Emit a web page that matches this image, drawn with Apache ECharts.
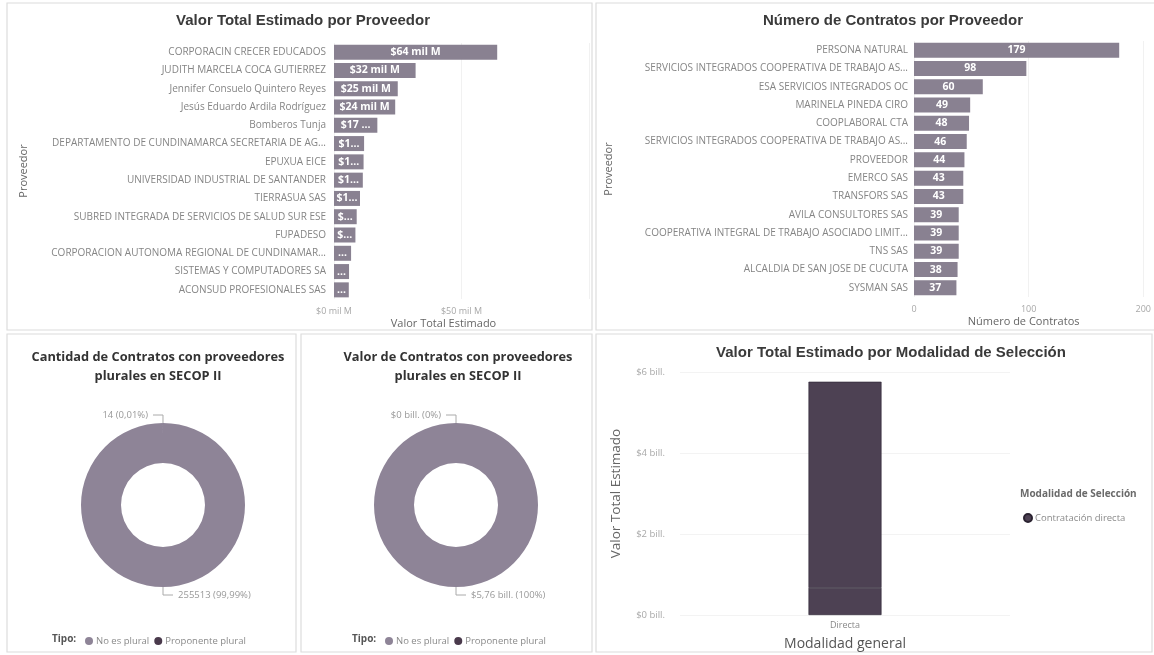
<!DOCTYPE html>
<html><head><meta charset="utf-8">
<script src="https://cdn.jsdelivr.net/npm/echarts@6/dist/echarts.min.js"></script>
<style>html,body{margin:0;padding:0;background:#fff}#c{width:1154px;height:655px}</style>
</head><body><div id="c"></div>
<script>
// ---- data ----
const proveedoresValor = [
  'CORPORACIN CRECER EDUCADOS',
  'JUDITH MARCELA COCA GUTIERREZ',
  'Jennifer Consuelo Quintero Reyes',
  'Jesús Eduardo Ardila Rodríguez',
  'Bomberos Tunja',
  'DEPARTAMENTO DE CUNDINAMARCA SECRETARIA DE AG...',
  'EPUXUA EICE',
  'UNIVERSIDAD INDUSTRIAL DE SANTANDER',
  'TIERRASUA SAS',
  'SUBRED INTEGRADA DE SERVICIOS DE SALUD SUR ESE',
  'FUPADESO',
  'CORPORACION AUTONOMA REGIONAL DE CUNDINAMAR...',
  'SISTEMAS Y COMPUTADORES SA',
  'ACONSUD PROFESIONALES SAS'
];
const valorMilM = [64, 32, 25, 24, 17, 11.8, 11.6, 11.3, 10.2, 8.9, 8.4, 6.7, 5.9, 5.8];

const proveedoresContratos = [
  'PERSONA NATURAL',
  'SERVICIOS INTEGRADOS COOPERATIVA DE TRABAJO AS...',
  'ESA SERVICIOS INTEGRADOS OC',
  'MARINELA PINEDA CIRO',
  'COOPLABORAL CTA',
  'SERVICIOS INTEGRADOS COOPERATIVA DE TRABAJO AS...\u200B',
  'PROVEEDOR',
  'EMERCO SAS',
  'TRANSFORS SAS',
  'AVILA CONSULTORES SAS',
  'COOPERATIVA INTEGRAL DE TRABAJO ASOCIADO LIMIT...',
  'TNS SAS',
  'ALCALDIA DE SAN JOSE DE CUCUTA',
  'SYSMAN SAS'
];
const numeroContratos = [179, 98, 60, 49, 48, 46, 44, 43, 43, 39, 39, 39, 38, 37];

const tipos = ['No es plural', 'Proponente plural'];
const cantidadPorTipo = [255513, 14];
const valorPorTipoBill = [5.76, 0];

const modalidadGeneral = ['Directa'];
const modalidadSeleccion = 'Contratación directa';
const valorModalidadTramoInferior = [0.67];
const valorModalidadTramoSuperior = [5.09];

const ticksValorMilM = [0, 50, 100];
const ticksContratos = [0, 100, 200];
const ticksModalidadBill = [0, 2, 4, 6];

// ---- styles ----
const FONT = "'Open Sans', 'Noto Sans', sans-serif";
const TFONT = "'Liberation Sans', Arial, sans-serif";
const barColor = '#898191';
const darkColor = '#4d4153';
const tipoColors = ['#8e8497', '#4a3a4c'];

function fmtPct(p) {
  return String(parseFloat(p.toFixed(2))).replace('.', ',');
}
function pctList(arr) {
  const s = arr.reduce((a, b) => a + b, 0);
  return arr.map(v => s ? v / s * 100 : 0);
}
const pctCantidad = pctList(cantidadPorTipo);
const pctValor = pctList(valorPorTipoBill);

const catAxisCommon = {
  type: 'category', inverse: true,
  axisLine: { show: false }, axisTick: { show: false },
  axisLabel: { color: '#858585', fontSize: 10, fontFamily: FONT },
  nameLocation: 'middle', nameRotate: 90,
  nameTextStyle: { color: '#666', fontSize: 11, fontFamily: FONT }
};
const valAxisCommon = {
  type: 'value',
  axisLine: { show: false }, axisTick: { show: false },
  splitLine: { show: true, lineStyle: { color: '#f1f1f1' } },
  axisLabel: { color: '#a8a8a8', fontSize: 9, fontFamily: FONT, margin: 8 },
  nameLocation: 'middle',
  nameTextStyle: { color: '#666', fontSize: 11, fontFamily: FONT }
};

const option = {
  backgroundColor: '#fff',
  animation: false,
  title: [
    { text: 'Valor Total Estimado por Proveedor', left: 298, top: 8, textAlign: 'center',
      textStyle: { fontFamily: TFONT, fontSize: 15, fontWeight: 'bold', color: '#3a3a3a' } },
    { text: 'Número de Contratos por Proveedor', left: 888, top: 8, textAlign: 'center',
      textStyle: { fontFamily: TFONT, fontSize: 15, fontWeight: 'bold', color: '#3a3a3a' } },
    { text: 'Cantidad de Contratos con proveedores\nplurales en SECOP II', left: 153, top: 343, textAlign: 'center',
      textStyle: { fontFamily: FONT, fontSize: 12.8, fontWeight: 'bold', color: '#333', lineHeight: 19, align: 'center' } },
    { text: 'Valor de Contratos con proveedores\nplurales en SECOP II', left: 453, top: 343, textAlign: 'center',
      textStyle: { fontFamily: FONT, fontSize: 12.8, fontWeight: 'bold', color: '#333', lineHeight: 19, align: 'center' } },
    { text: 'Valor Total Estimado por Modalidad de Selección', left: 886, top: 340, textAlign: 'center',
      textStyle: { fontFamily: TFONT, fontSize: 15, fontWeight: 'bold', color: '#3a3a3a' } }
  ],
  grid: [
    { left: 334, top: 43, width: 255, height: 256 },
    { left: 914, top: 41, width: 231, height: 256 },
    { left: 680, top: 372, width: 330, height: 243 }
  ],
  xAxis: [
    Object.assign({}, valAxisCommon, {
      gridIndex: 0, min: ticksValorMilM[0], max: ticksValorMilM[2], interval: ticksValorMilM[1] - ticksValorMilM[0],
      name: 'Valor Total Estimado', nameGap: 19,
      nameTextStyle: { color: '#666', fontSize: 11, fontFamily: FONT, padding: [0, 36, 0, 0] },
      axisLabel: Object.assign({}, valAxisCommon.axisLabel, { showMaxLabel: false, formatter: v => '$' + v + ' mil M' })
    }),
    Object.assign({}, valAxisCommon, {
      gridIndex: 1, min: ticksContratos[0], max: ticksContratos[2], interval: ticksContratos[1] - ticksContratos[0],
      name: 'Número de Contratos', nameGap: 19,
      nameTextStyle: { color: '#666', fontSize: 11, fontFamily: FONT, padding: [0, 10, 0, 0] }
    }),
    {
      gridIndex: 2, type: 'category', data: modalidadGeneral,
      axisLine: { show: false }, axisTick: { show: false },
      axisLabel: { color: '#888', fontSize: 9, fontFamily: FONT, margin: 6 },
      name: 'Modalidad general', nameLocation: 'middle', nameGap: 22,
      nameTextStyle: { color: '#555', fontSize: 14, fontFamily: FONT }
    }
  ],
  yAxis: [
    Object.assign({}, catAxisCommon, { gridIndex: 0, data: proveedoresValor, name: 'Proveedor', nameGap: 305 }),
    Object.assign({}, catAxisCommon, {
      gridIndex: 1, data: proveedoresContratos, name: 'Proveedor', nameGap: 300,
      axisLabel: Object.assign({}, catAxisCommon.axisLabel, { margin: 6 })
    }),
    {
      gridIndex: 2, type: 'value', min: ticksModalidadBill[0], max: ticksModalidadBill[3],
      interval: ticksModalidadBill[1] - ticksModalidadBill[0],
      axisLine: { show: false }, axisTick: { show: false },
      splitLine: { show: true, lineStyle: { color: '#f3f3f3' } },
      axisLabel: { color: '#a8a8a8', fontSize: 9.5, fontFamily: FONT, margin: 15, formatter: v => '$' + v + ' bill.' },
      name: 'Valor Total Estimado', nameLocation: 'middle', nameRotate: 90, nameGap: 57,
      nameTextStyle: { color: '#666', fontSize: 13.5, fontFamily: FONT }
    }
  ],
  legend: [
    { data: tipos, left: 80, top: 631, icon: 'circle', itemWidth: 8, itemHeight: 8, itemGap: 5,
      textStyle: { color: '#8a8a8a', fontSize: 9.5, fontFamily: FONT, padding: [0, 0, 0, -2] } },
    { data: tipos, left: 380, top: 631, icon: 'circle', itemWidth: 8, itemHeight: 8, itemGap: 5,
      textStyle: { color: '#8a8a8a', fontSize: 9.5, fontFamily: FONT, padding: [0, 0, 0, -2] } },
    { data: [modalidadSeleccion], left: 1018, top: 508, icon: 'circle', itemWidth: 8, itemHeight: 8,
      textStyle: { color: '#8a8a8a', fontSize: 9.5, fontFamily: FONT, padding: [0, 0, 0, -2] } }
  ],
  graphic: [
    { type: 'rect', shape: { x: 7, y: 3, width: 585, height: 327 }, style: { fill: 'none', stroke: '#dcdcdc', lineWidth: 1.2 }, silent: true },
    { type: 'rect', shape: { x: 596, y: 3, width: 562, height: 327 }, style: { fill: 'none', stroke: '#dcdcdc', lineWidth: 1.2 }, silent: true },
    { type: 'rect', shape: { x: 7, y: 334, width: 289, height: 318 }, style: { fill: 'none', stroke: '#dcdcdc', lineWidth: 1.2 }, silent: true },
    { type: 'rect', shape: { x: 301, y: 334, width: 291, height: 318 }, style: { fill: 'none', stroke: '#dcdcdc', lineWidth: 1.2 }, silent: true },
    { type: 'rect', shape: { x: 596, y: 334, width: 556, height: 318 }, style: { fill: 'none', stroke: '#dcdcdc', lineWidth: 1.2 }, silent: true },
    { type: 'text', left: 52, top: 634, style: { text: 'Tipo:', fill: '#555', font: "bold 10px 'Open Sans', sans-serif" } },
    { type: 'text', left: 352, top: 634, style: { text: 'Tipo:', fill: '#555', font: "bold 10px 'Open Sans', sans-serif" } },
    { type: 'text', left: 1020, top: 489, style: { text: 'Modalidad de Selección', fill: '#6a6a6a', font: "bold 10px 'Open Sans', sans-serif" } }
  ],
  series: [
    {
      id: 'valor', type: 'bar', xAxisIndex: 0, yAxisIndex: 0, data: valorMilM,
      barCategoryGap: '18%', itemStyle: { color: barColor },
      label: { show: true, position: 'inside', color: '#fff', fontSize: 10.5, fontWeight: 'bold', fontFamily: FONT,
        overflow: 'truncate', ellipsis: '...', formatter: p => '$' + Math.round(p.value) + ' mil M' }
    },
    {
      id: 'contratos', type: 'bar', xAxisIndex: 1, yAxisIndex: 1, data: numeroContratos,
      barCategoryGap: '18%', itemStyle: { color: barColor },
      label: { show: true, position: 'inside', color: '#fff', fontSize: 10.5, fontWeight: 'bold', fontFamily: FONT }
    },
    {
      name: modalidadSeleccion, type: 'bar', xAxisIndex: 2, yAxisIndex: 2, stack: 'm',
      data: valorModalidadTramoInferior, barWidth: 73,
      itemStyle: { color: darkColor, borderColor: '#2a2230', borderWidth: 0.6 }
    },
    {
      name: modalidadSeleccion, type: 'bar', xAxisIndex: 2, yAxisIndex: 2, stack: 'm',
      data: valorModalidadTramoSuperior, barWidth: 73,
      itemStyle: { color: darkColor, borderColor: '#2a2230', borderWidth: 0.6 }
    },
    {
      type: 'pie', center: [163, 505], radius: [42, 82], startAngle: 90, clockwise: true,
      avoidLabelOverlap: false, color: tipoColors,
      data: tipos.map((t, i) => ({ name: t, value: cantidadPorTipo[i] })),
      label: { show: true, position: 'outside', color: '#999', fontSize: 9.5, fontFamily: FONT,
        formatter: p => cantidadPorTipo[p.dataIndex] + ' (' + fmtPct(pctCantidad[p.dataIndex]) + '%)' },
      labelLine: { show: true, length: 8, length2: 10, lineStyle: { color: '#aaa', width: 1 } },
      emphasis: { disabled: true }
    },
    {
      type: 'pie', center: [456, 505], radius: [42, 82], startAngle: 90, clockwise: true,
      avoidLabelOverlap: false, color: tipoColors,
      data: tipos.map((t, i) => ({ name: t, value: valorPorTipoBill[i] })),
      label: { show: true, position: 'outside', color: '#999', fontSize: 9.5, fontFamily: FONT,
        formatter: p => '$' + String(valorPorTipoBill[p.dataIndex]).replace('.', ',') + ' bill. (' + fmtPct(pctValor[p.dataIndex]) + '%)' },
      labelLine: { show: true, length: 8, length2: 10, lineStyle: { color: '#aaa', width: 1 } },
      emphasis: { disabled: true }
    }
  ]
};

const chart = echarts.init(document.getElementById('c'));
chart.setOption(option);

// fit bar labels inside their bars (Power BI style truncation)
function widths(axisIdx, values) {
  const x0 = chart.convertToPixel({ xAxisIndex: axisIdx }, 0);
  return values.map(v => Math.max(4, chart.convertToPixel({ xAxisIndex: axisIdx }, v) - x0 - 4));
}
const w0 = widths(0, valorMilM);
const w1 = widths(1, numeroContratos);
chart.setOption({
  series: [
    { id: 'valor', data: valorMilM.map((v, i) => ({ value: v, label: { width: w0[i] } })) },
    { id: 'contratos', data: numeroContratos.map((v, i) => ({ value: v, label: { width: w1[i] } })) }
  ]
});
</script>
</body></html>
